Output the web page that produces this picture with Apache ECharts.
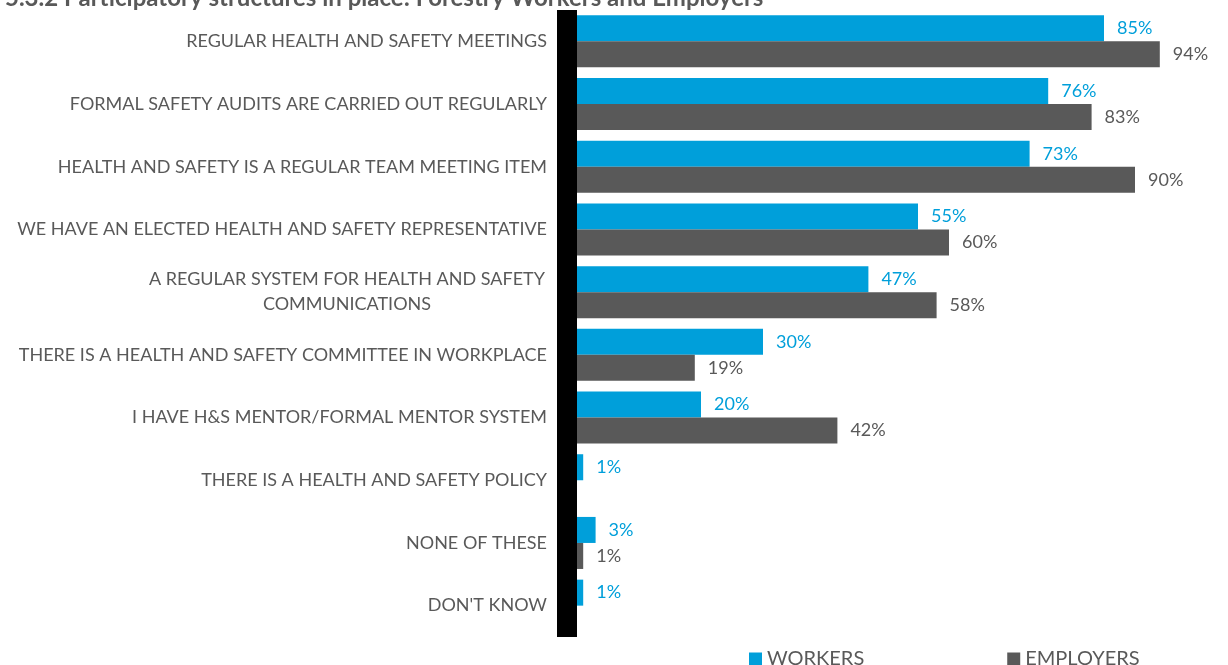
<!DOCTYPE html>
<html>
<head>
<meta charset="utf-8">
<script src="https://cdn.jsdelivr.net/npm/echarts@6/dist/echarts.min.js"></script>
<style>
  html, body { margin: 0; padding: 0; background: #fff; }
  #chart { width: 1228px; height: 665px; }
</style>
</head>
<body>
<div id="chart"></div>
<script>
  var categories = [
    'REGULAR HEALTH AND SAFETY MEETINGS',
    'FORMAL SAFETY AUDITS ARE CARRIED OUT REGULARLY',
    'HEALTH AND SAFETY IS A REGULAR TEAM MEETING ITEM',
    'WE HAVE AN ELECTED HEALTH AND SAFETY REPRESENTATIVE',
    'A REGULAR SYSTEM FOR HEALTH AND SAFETY\nCOMMUNICATIONS',
    'THERE IS A HEALTH AND SAFETY COMMITTEE IN WORKPLACE',
    'I HAVE H&S MENTOR/FORMAL MENTOR SYSTEM',
    'THERE IS A HEALTH AND SAFETY POLICY',
    'NONE OF THESE',
    "DON'T KNOW"
  ];
  var workers = [85, 76, 73, 55, 47, 30, 20, 1, 3, 1];
  var employers = [94, 83, 90, 60, 58, 19, 42, null, 1, null];

  var chart = echarts.init(document.getElementById('chart'));
  chart.setOption({
    animation: false,
    textStyle: { fontFamily: 'Lato' },
    title: {
      text: '5.3.2 Participatory structures in place: Forestry Workers and Employers',
      left: 0,
      top: -19,
      textStyle: { fontSize: 24, fontWeight: 'bold', color: '#595959', fontFamily: 'Lato' }
    },
    legend: {
      data: ['WORKERS', 'EMPLOYERS'],
      left: 744,
      top: 644,
      itemWidth: 13,
      itemHeight: 13,
      itemGap: 143,
      icon: 'rect',
      textStyle: { fontSize: 20, color: '#595959' }
    },
    grid: { left: 577, top: 10, width: 620, bottom: 28, containLabel: false },
    xAxis: {
      type: 'value',
      min: 0,
      max: 100,
      show: false
    },
    yAxis: {
      type: 'category',
      data: categories,
      inverse: true,
      offset: 10,
      axisLine: { show: true, onZero: false, lineStyle: { color: '#000', width: 20, cap: 'butt' } },
      axisTick: { show: false },
      axisLabel: {
        margin: 20,
        fontSize: 18,
        color: '#595959',
        formatter: function (v) {
          if (v.indexOf('\n') < 0) return v;
          return v.split('\n').map(function (s) { return '{c|' + s + '}'; }).join('\n');
        },
        rich: { c: { width: 400, align: 'center', fontSize: 18, color: '#595959', lineHeight: 25 } }
      }
    },
    series: [
      {
        name: 'WORKERS',
        type: 'bar',
        data: workers,
        barGap: '0%',
        barCategoryGap: '17%',
        itemStyle: { color: '#009FDA' },
        label: {
          show: true,
          position: 'right',
          distance: 13,
          formatter: '{c}%',
          fontSize: 18,
          color: '#009FDA'
        }
      },
      {
        name: 'EMPLOYERS',
        type: 'bar',
        data: employers,
        itemStyle: { color: '#595959' },
        label: {
          show: true,
          position: 'right',
          distance: 13,
          formatter: '{c}%',
          fontSize: 18,
          color: '#595959'
        }
      }
    ]
  });
</script>
</body>
</html>
